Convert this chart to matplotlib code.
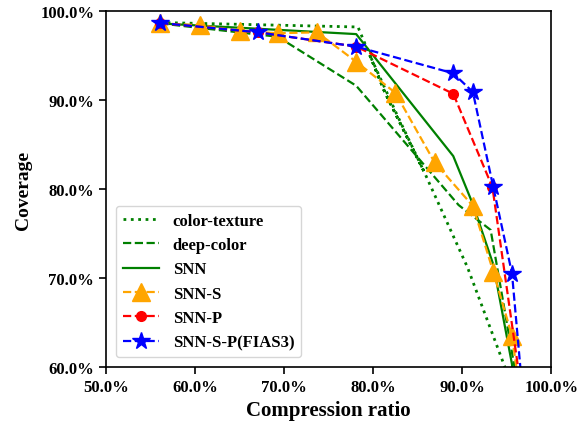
import matplotlib
matplotlib.use("Agg")
import matplotlib.pyplot as plt
from matplotlib.ticker import FuncFormatter

# ---- data (percent) ----
ct_x = [56.1, 78.3, 79.6, 81.3, 85.7, 82.7, 79.6, 81.3, 85.7, 90.6, 94.8]
ct_y = [98.7, 98.2, 95.1, 90.9, 82.0, 88.3, 95.1, 90.9, 82.0, 71.2, 60.0]

dc_x = [56.1, 69.3, 78.1, 89.6, 93.2, 96.4]
dc_y = [98.6, 97.1, 91.6, 78.2, 75.4, 57.0]

snn_x = [56.1, 78.1, 89.0, 91.2, 93.5, 95.6, 95.8]
snn_y = [98.6, 97.4, 83.7, 78.3, 71.5, 60.3, 57.0]

snns_x = [56.1, 60.6, 65.0, 69.3, 73.7, 78.1, 82.5, 86.9, 91.2, 93.5, 95.6, 96.5]
snns_y = [98.6, 98.4, 97.75, 97.5, 97.6, 94.3, 90.8, 83.0, 78.1, 70.7, 63.5, 57.0]

snnp_x = [56.1, 67.1, 78.1, 89.0, 93.4, 96.7]
snnp_y = [98.65, 97.6, 96.0, 90.7, 80.2, 57.0]

snnsp_x = [56.1, 67.1, 78.1, 89.0, 91.2, 93.5, 95.6, 96.8]
snnsp_y = [98.65, 97.6, 96.0, 93.0, 90.9, 80.2, 70.5, 57.0]

x_ticks = [50, 60, 70, 80, 90, 100]
y_ticks = [60, 70, 80, 90, 100]

plt.rcParams['font.family'] = ['Liberation Serif', 'DejaVu Serif']
plt.rcParams['font.weight'] = 'bold'

fig = plt.figure(figsize=(5.79, 4.27), dpi=100)
ax = fig.add_axes([0.183, 0.138, 0.769, 0.834])

ax.plot(ct_x, ct_y, color='green', linestyle=':', lw=2, label='color-texture')
ax.plot(dc_x, dc_y, color='green', linestyle='--', lw=1.6, label='deep-color')
ax.plot(snn_x, snn_y, color='green', linestyle='-', lw=1.6, label='SNN')
ax.plot(snns_x, snns_y, color='orange', linestyle='--', lw=1.6, marker='^',
        markersize=13, label='SNN-S')
ax.plot(snnp_x, snnp_y, color='red', linestyle='--', lw=1.6, marker='o',
        markersize=7, label='SNN-P')
ax.plot(snnsp_x, snnsp_y, color='blue', linestyle='--', lw=1.6, marker='*',
        markersize=13, label='SNN-S-P(FIAS3)')

ax.set_xlim(50, 100)
ax.set_ylim(60, 100)
ax.set_xticks(x_ticks)
ax.set_yticks(y_ticks)
fmt = FuncFormatter(lambda v, p: f"{v:.1f}%")
ax.xaxis.set_major_formatter(fmt)
ax.yaxis.set_major_formatter(fmt)
ax.tick_params(labelsize=12, width=1.2, length=5)
for lab in ax.get_xticklabels() + ax.get_yticklabels():
    lab.set_fontweight('bold')
for s in ax.spines.values():
    s.set_linewidth(1.2)

ax.set_xlabel('Compression ratio', fontsize=15, fontweight='bold', labelpad=4)
ax.set_ylabel('Coverage', fontsize=14, fontweight='bold', labelpad=6)

leg = ax.legend(loc='lower left', prop={'size': 12, 'weight': 'bold'},
                handlelength=2.2, borderaxespad=0.6)

fig.savefig('out.png', dpi=100)
